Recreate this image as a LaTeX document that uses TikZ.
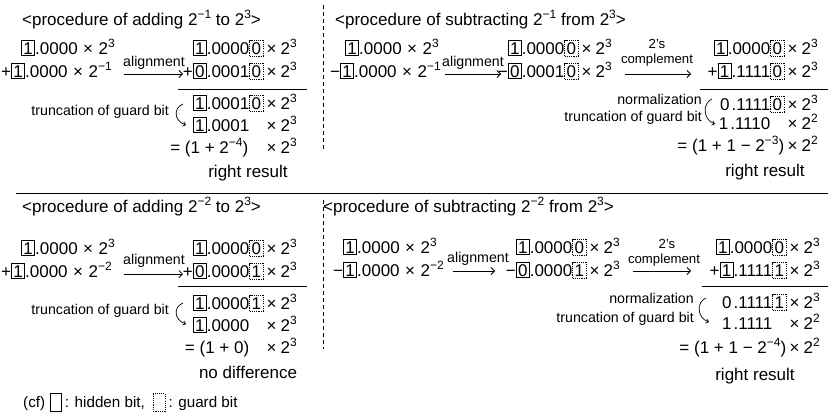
\documentclass[tikz,border=0pt]{standalone}
\usepackage{fontspec}
\setmainfont{Liberation Sans}
\usetikzlibrary{arrows.meta}
\newcommand\mainsz{\fontsize{17}{20}\selectfont}
\newcommand\lblsz{\fontsize{14.2}{16}\selectfont}
\newcommand\smsz{\fontsize{13.2}{15}\selectfont}
\newcommand\cfsz{\fontsize{15.2}{17}\selectfont}
\newcommand\supsz{\fontsize{12}{12}\selectfont}
\newcommand\sps[1]{\raisebox{6.5pt}{\supsz #1}}
\newcommand\tm{\hspace{3.5pt}×\hspace{4pt}}
\newcommand\tmw{\hspace{5.5pt}×\hspace{5.5pt}}
\tikzset{
  bitbox/.style={anchor=base, inner xsep=1.9pt, inner ysep=1.2pt, text height=12pt, text depth=0pt, line width=0.75pt},
  hbit/.style={bitbox, draw},
  gbit/.style={bitbox, draw, line width=0.65pt, dash pattern=on 1.1pt off 1.1pt, text height=12.8pt, text depth=0.8pt},
  nbit/.style={bitbox},
  row/.style={font=\mainsz, inner sep=0pt},
  lbl/.style={font=\lblsz, inner sep=0pt},
  sml/.style={font=\smsz, inner sep=0pt},
  rule/.style={line width=0.9pt},
  vdash/.style={line width=0.8pt, dash pattern=on 4pt off 3pt},
  larrow/.style={line width=0.8pt, -{Straight Barb[length=3.5pt,width=7pt]}},
  carrow/.style={line width=0.7pt, -{Straight Barb[length=2.5pt,width=4.5pt]}}
}
\newcommand\hb[1]{\tikz[baseline=0pt]\node[hbit]{#1};}
\newcommand\gb[1]{\tikz[baseline=0pt]\node[gbit]{#1};}
\newcommand\nb[1]{\tikz[baseline=0pt]\node[nbit]{#1};}
\begin{document}
\begin{tikzpicture}[x=1pt,y=-1pt]
\useasboundingbox (0,0) rectangle (828,415);
% ---------- separators ----------
\coordinate (hsa) at (16,193); \coordinate (hsb) at (828,193);
\draw[rule] (hsa) -- (hsb);
\coordinate (v1a) at (323,5); \coordinate (v1b) at (323,150);
\draw[vdash] (v1a) -- (v1b);
\coordinate (v2a) at (323,200); \coordinate (v2b) at (323,349);
\draw[vdash] (v2a) -- (v2b);
% ---------- top left ----------
\node[row, anchor=base west] (tlt) at (22,25) {<procedure of adding 2\sps{−1} to 2\sps{3}>};
\node[row, anchor=base west] (tla) at (21,54) {\hb{1}.0000\tmw 2\sps{3}};
\node[row, anchor=base west] (tlb) at (1,77) {+\hb{1}.0000\tmw 2\sps{−1}};
\node[lbl, anchor=base] (tlal) at (154,66) {alignment};
\coordinate (tlas) at (124,74); \coordinate (tlae) at (183,74);
\draw[larrow] (tlas) -- (tlae);
\node[row, anchor=base east] (tlc) at (297,54) {\hb{1}.0000\gb{0}\tm 2\sps{3}};
\node[row, anchor=base east] (tld) at (297,77) {+\hb{0}.0001\gb{0}\tm 2\sps{3}};
\coordinate (tlla) at (178,89); \coordinate (tllb) at (307,89);
\draw[rule] (tlla) -- (tllb);
\node[row, anchor=base east] (tle) at (297,109) {\hb{1}.0001\gb{0}\tm 2\sps{3}};
\node[row, anchor=base east] (tlf) at (297,131) {\hb{1}.0001\phantom{\gb{0}}\tm 2\sps{3}};
\node[row, anchor=base east] (tlg) at (297,153) {= (1 + 2\sps{−4})\hspace{15pt}\tm 2\sps{3}};
\node[row, anchor=base] (tlr) at (248,177) {right result};
\node[lbl, anchor=base east] (tltr) at (169,115) {truncation of guard bit};
\coordinate (tlcs) at (183,104); \coordinate (tlce) at (186,125);
\draw[carrow] (tlcs) .. controls (173,108) and (174,121) .. (tlce);
% ---------- top right ----------
\node[row, anchor=base west] (trt) at (335,25) {<procedure of subtracting 2\sps{−1} from 2\sps{3}>};
\node[row, anchor=base west] (tra) at (345,54) {\hb{1}.0000\tmw 2\sps{3}};
\node[row, anchor=base west] (trb) at (330,77) {−\hb{1}.0000\tmw 2\sps{−1}};
\node[lbl, anchor=base] (tral) at (473,66) {alignment};
\coordinate (tras) at (445,74); \coordinate (trae) at (501,74);
\draw[larrow] (tras) -- (trae);
\node[row, anchor=base east] (trc) at (612,54) {\hb{1}.0000\gb{0}\tm 2\sps{3}};
\node[row, anchor=base east] (trd) at (612,77) {−\hb{0}.0001\gb{0}\tm 2\sps{3}};
\node[sml, anchor=base] (trs1) at (657,48) {2’s};
\node[sml, anchor=base] (trs2) at (657,63) {complement};
\coordinate (trcs) at (625,74); \coordinate (trce) at (691,74);
\draw[larrow] (trcs) -- (trce);
\node[row, anchor=base east] (tre) at (818,54) {\hb{1}.0000\gb{0}\tm 2\sps{3}};
\node[row, anchor=base east] (trf) at (818,77) {+\hb{1}.1111\gb{0}\tm 2\sps{3}};
\coordinate (trla) at (700,89); \coordinate (trlb) at (828,89);
\draw[rule] (trla) -- (trlb);
\node[row, anchor=base east] (trg) at (818,110) {\nb{0}.1111\gb{0}\tm 2\sps{3}};
\node[row, anchor=base east] (trh) at (818,129) {\nb{1}.1110\phantom{\gb{0}}\tm 2\sps{2}};
\node[row, anchor=base east] (tri) at (818,151) {= (1 + 1 − 2\sps{−3})\tm 2\sps{2}};
\node[row, anchor=base] (trr) at (765,176) {right result};
\node[lbl, anchor=base east] (trn1) at (702,104) {normalization};
\node[lbl, anchor=base east] (trn2) at (702,121) {truncation of guard bit};
\coordinate (trqs) at (712,99); \coordinate (trqe) at (715,124);
\draw[carrow] (trqs) .. controls (702,103) and (703,120) .. (trqe);
% ---------- bottom left ----------
\node[row, anchor=base west] (blt) at (22,212) {<procedure of adding 2\sps{−2} to 2\sps{3}>};
\node[row, anchor=base west] (bla) at (21,254) {\hb{1}.0000\tmw 2\sps{3}};
\node[row, anchor=base west] (blb) at (1,277) {+\hb{1}.0000\tmw 2\sps{−2}};
\node[lbl, anchor=base] (blal) at (154,264) {alignment};
\coordinate (blas) at (124,274); \coordinate (blae) at (183,274);
\draw[larrow] (blas) -- (blae);
\node[row, anchor=base east] (blc) at (297,254) {\hb{1}.0000\gb{0}\tm 2\sps{3}};
\node[row, anchor=base east] (bld) at (297,277) {+\hb{0}.0000\gb{1}\tm 2\sps{3}};
\coordinate (blla) at (178,286); \coordinate (bllb) at (307,286);
\draw[rule] (blla) -- (bllb);
\node[row, anchor=base east] (ble) at (297,309) {\hb{1}.0000\gb{1}\tm 2\sps{3}};
\node[row, anchor=base east] (blf) at (297,331) {\hb{1}.0000\phantom{\gb{0}}\tm 2\sps{3}};
\node[row, anchor=base east] (blg) at (297,353) {= (1 + 0)\hspace{14pt}\tm 2\sps{3}};
\node[row, anchor=base] (blr) at (248,378) {no difference};
\node[lbl, anchor=base east] (bltr) at (169,314) {truncation of guard bit};
\coordinate (blcs) at (183,303); \coordinate (blce) at (186,324);
\draw[carrow] (blcs) .. controls (173,307) and (174,320) .. (blce);
% ---------- bottom right ----------
\node[row, anchor=base west] (brt) at (323,212) {<procedure of subtracting 2\sps{−2} from 2\sps{3}>};
\node[row, anchor=base west] (bra) at (343,253) {\hb{1}.0000\tmw 2\sps{3}};
\node[row, anchor=base west] (brb) at (333,276) {−\hb{1}.0000\tmw 2\sps{−2}};
\node[lbl, anchor=base] (bral) at (478,262) {alignment};
\coordinate (bras) at (453,271); \coordinate (brae) at (495,271);
\draw[larrow] (bras) -- (brae);
\node[row, anchor=base east] (brc) at (620,253) {\hb{1}.0000\gb{0}\tm 2\sps{3}};
\node[row, anchor=base east] (brd) at (620,276) {−\hb{0}.0000\gb{1}\tm 2\sps{3}};
\node[sml, anchor=base] (brs1) at (667,248) {2’s};
\node[sml, anchor=base] (brs2) at (664,263) {complement};
\coordinate (brcs) at (633,271); \coordinate (brce) at (691,271);
\draw[larrow] (brcs) -- (brce);
\node[row, anchor=base east] (bre) at (820,253) {\hb{1}.0000\gb{0}\tm 2\sps{3}};
\node[row, anchor=base east] (brf) at (820,276) {+\hb{1}.1111\gb{1}\tm 2\sps{3}};
\coordinate (brla) at (702,286); \coordinate (brlb) at (828,286);
\draw[rule] (brla) -- (brlb);
\node[row, anchor=base east] (brg) at (820,308) {\nb{0}.1111\gb{1}\tm 2\sps{3}};
\node[row, anchor=base east] (brh) at (820,329) {\nb{1}.1111\phantom{\gb{0}}\tm 2\sps{2}};
\node[row, anchor=base east] (bri) at (820,353) {= (1 + 1 − 2\sps{−4})\tm 2\sps{2}};
\node[row, anchor=base] (brr) at (755,380) {right result};
\node[lbl, anchor=base east] (brn1) at (694,303) {normalization};
\node[lbl, anchor=base east] (brn2) at (694,322) {truncation of guard bit};
\coordinate (brqs) at (706,298); \coordinate (brqe) at (709,322);
\draw[carrow] (brqs) .. controls (696,302) and (697,318) .. (brqe);
% ---------- legend ----------
\node[font=\cfsz, inner sep=0pt, anchor=base west] (cf) at (23,407) {(cf)\hspace{5pt}\tikz[baseline=5pt]\node[draw, line width=0.75pt, minimum width=11pt, minimum height=18pt, inner sep=0pt, anchor=south]{};\hspace{3pt}: hidden bit,\hspace{8pt}\tikz[baseline=5pt]\node[draw, line width=0.65pt, dash pattern=on 1.1pt off 1.1pt, minimum width=12pt, minimum height=18pt, inner sep=0pt, anchor=south]{};\hspace{3pt}: guard bit};
\end{tikzpicture}
\end{document}
